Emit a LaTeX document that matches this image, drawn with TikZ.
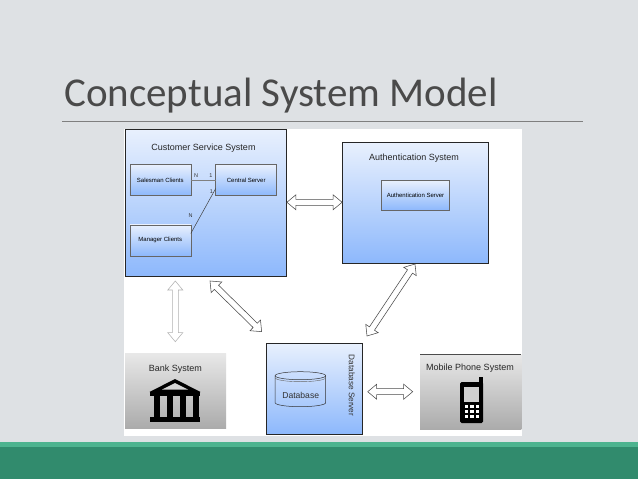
\documentclass[tikz,border=0pt]{standalone}
\usepackage{fontspec}
\setmainfont{Liberation Sans}
\newfontfamily\titlefont{Carlito}
\usetikzlibrary{calc}

\definecolor{slidebg}{HTML}{DEE1E4}
\definecolor{barlight}{HTML}{4DB38F}
\definecolor{bardark}{HTML}{318B6D}
\definecolor{titlegray}{HTML}{4A4A4A}
\definecolor{rulegray}{HTML}{7F7F7F}
\definecolor{bluetop}{HTML}{E8F0FD}
\definecolor{bluebot}{HTML}{8DB8FC}
\definecolor{graytop}{HTML}{E8E8E8}
\definecolor{graybot}{HTML}{ABABAB}

\tikzset{
	bluebox/.style={draw=black!85, line width=.6pt, top color=bluetop, bottom color=bluebot, outer sep=0pt, inner sep=0pt},
	graybox/.style={top color=graytop, bottom color=graybot, outer sep=0pt, inner sep=0pt},
	inbox/.style={bluebox, draw=black!60, minimum width=61pt, minimum height=31pt, font=\fontsize{6}{7}\selectfont},
	boxtitle/.style={font=\fontsize{9}{10}\selectfont, text=black!85, inner sep=0pt},
	tinylabel/.style={font=\fontsize{5.5}{7}\selectfont, text=black!80, inner sep=0pt},
	hollowarrow/.style={draw=#1, fill=white, line width=.55pt, line join=miter},
	hollowarrow/.default=black!70,
}

% hollow two-headed arrow between two named coordinates
\newcommand{\twohead}[3][black!70]{
	\path let \p1=(#2), \p2=(#3), \n1={atan2(\y2-\y1,\x2-\x1)}, \n2={veclen(\x2-\x1,\y2-\y1)} in
		\pgfextra{\xdef\headang{\n1}\xdef\headlen{\n2}};
	\begin{scope}[shift={(#2)}, rotate=\headang]
		\draw[hollowarrow=#1] (0pt,0pt) -- (9pt,7.5pt) -- (9pt,3pt) -- ({\headlen-9pt},3pt) -- ({\headlen-9pt},7.5pt)
			-- (\headlen,0pt) -- ({\headlen-9pt},-7.5pt) -- ({\headlen-9pt},-3pt) -- (9pt,-3pt) -- (9pt,-7.5pt) -- cycle;
	\end{scope}
}

\begin{document}
\begin{tikzpicture}[x=1pt,y=-1pt]
	\fill[slidebg] (0,0) rectangle (638,479);
	\useasboundingbox (0,0) rectangle (638,479);
	\fill[bardark] (0,447) rectangle (638,479);
	\fill[barlight] (0,442) rectangle (638,447);

	\node[font=\titlefont\fontsize{41}{45}\selectfont, text=titlegray, anchor=base west, inner sep=0pt] (title) at (64,106.5) {Conceptual System Model};
	\draw[rulegray, line width=.6pt] (62,121) -- (583,121);

	\fill[white] (124,129) rectangle (522,436);

	% customer service system
	\node[bluebox, minimum width=161.5pt, minimum height=147.5pt] (customer) at (205.8,203) {};
	\node[boxtitle] (customertext) at (203.5,148.3) {Customer Service System};
	\node[inbox] (salesman) at (160.3,180) {Salesman Clients};
	\node[inbox] (central) at (246.2,180) {Central Server};
	\node[inbox] (manager) at (160.3,240.3) {Manager Clients};
	\draw[black!50, line width=.4pt] (salesman.east) -- (central.west);
	\draw[black!75, line width=.5pt] (manager.east |- 0,233.5) -- (central.west |- 0,188.5);
	\node[tinylabel] (n1) at (196,176) {N};
	\node[tinylabel] (one1) at (211,176) {1};
	\node[tinylabel] (one2) at (211.5,191.5) {1};
	\node[tinylabel] (n2) at (190.7,215.7) {N};

	% authentication system
	\node[bluebox, minimum width=146.4pt, minimum height=120.6pt] (auth) at (415.5,203) {};
	\node[boxtitle] (authtext) at (414,158.5) {Authentication System};
	\node[inbox, minimum width=68.4pt, minimum height=30pt] (authserver) at (415.5,195.3) {Authentication Server};

	% database server
	\node[bluebox, minimum width=95.6pt, minimum height=91pt] (dbserver) at (314.5,388.8) {};
	\node[tinylabel, font=\fontsize{8.2}{9}\selectfont, rotate=-90] (dbtext) at (351.7,385.5) {Database Server};
	\draw[black!80, line width=.5pt] (300.4,375.7) ellipse [x radius=25.3pt, y radius=4pt];
	\draw[black!80, line width=.5pt] (275.1,375.7) -- (275.1,402.7) arc[start angle=180, end angle=360, x radius=25.3pt, y radius=4pt] -- (325.7,375.7);
	\draw[black!60, line width=.4pt] (275.1,377.7) arc[start angle=180, end angle=360, x radius=25.3pt, y radius=4pt];
	\node[tinylabel, font=\fontsize{8.6}{9}\selectfont] (dbname) at (300.7,395) {Database};

	% bank system
	\node[graybox, minimum width=101pt, minimum height=75pt] (bank) at (175.5,390.8) {};
	\node[boxtitle] (banktext) at (175.3,368.8) {Bank System};
	\fill[black] (175,379) -- (200.5,392) -- (149.5,392) -- cycle;
	\fill[graytop!70!graybot] (175,383) -- (188,389.5) -- (162,389.5) -- cycle;
	\fill[black] (150,392) rectangle (200,396);
	\foreach \colx in {154,167,180,193}
		\fill[black] (\colx,396) rectangle ++(6,21);
	\fill[black] (150,417) rectangle (200,422);

	% mobile phone system
	\node[graybox, minimum width=101.3pt, minimum height=75pt] (mobile) at (470.7,391.8) {};
	\draw[black!70, line width=.5pt] (mobile.north west) -- (mobile.north east);
	\node[boxtitle] (mobiletext) at (470,368.5) {Mobile Phone System};
	\fill[black, rounded corners=1.5pt] (460,382) rectangle (483,423);
	\fill[black] (478.5,377) rectangle (482.8,384);
	\fill[graytop!60!graybot] (464,387) rectangle (479,401.7);
	\foreach \keyx in {464.5,470,475.5}
		\foreach \keyy in {405,410,415}
			\fill[white] (\keyx,\keyy) rectangle ++(3.5,3);

	% arrows between the systems
	\coordinate (bankup) at (175.3,281);
	\coordinate (bankdown) at (175.3,341.7);
	\coordinate (custdb) at (210,281);
	\coordinate (dbcust) at (261.7,331.7);
	\coordinate (authdb) at (415,264);
	\coordinate (dbauth) at (367,336);
	\coordinate (dbmobile) at (367.7,391.7);
	\coordinate (mobiledb) at (412.7,391.7);
	\coordinate (custauth) at (286.9,202.3);
	\coordinate (authcust) at (342.1,202.3);

	\twohead{custauth}{authcust}
	\twohead{authdb}{dbauth}
	\twohead{custdb}{dbcust}
	\twohead{dbmobile}{mobiledb}
	\twohead[black!30]{bankup}{bankdown}
\end{tikzpicture}
\end{document}
